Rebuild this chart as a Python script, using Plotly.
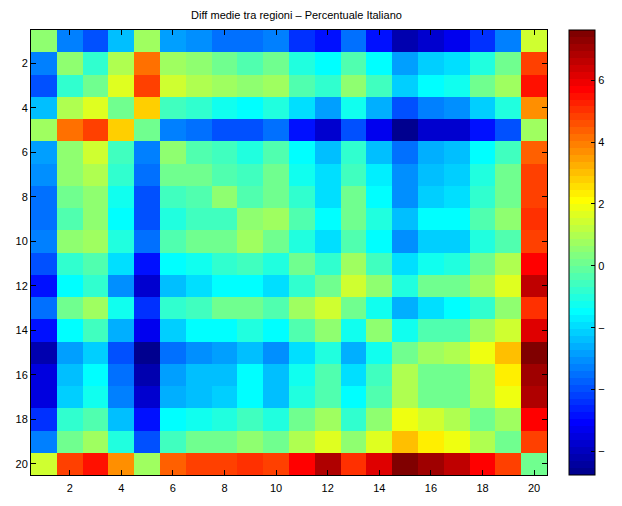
import plotly.graph_objects as go

regions = list(range(1, 21))
x_ticks = [2, 4, 6, 8, 10, 12, 14, 16, 18, 20]
cbar_vals = [-6, -4, -2, 0, 2, 4, 6]
cbar_text = ["\u2212", "\u2212", "\u2212", "0", "2", "4", "6"]
title_text = "Diff medie tra regioni \u2013 Percentuale Italiano"

row01 = [0.43, -3.28, -4.06, -2.27, 0.86, -2.73, -2.95, -3.40, -3.60, -3.17, -4.30, -4.96, -3.60, -4.75, -6.30, -5.70, -5.20, -4.30, -3.17, 1.50]
row02 = [-3.17, 0.43, -0.70, 1.10, 4.03, 0.86, 0.43, 0.00, -0.25, 0.20, -0.92, -1.55, -0.25, -1.37, -2.73, -2.05, -1.87, -0.92, 0.20, 4.92]
row03 = [-4.06, -0.70, 0.20, 1.72, 4.70, 1.33, 1.10, 0.86, 0.43, 0.86, -0.25, -0.70, 0.65, -0.47, -2.05, -1.37, -1.15, 0.00, 0.86, 5.55]
row04 = [-2.27, 1.10, 1.72, 0.20, 2.90, -0.47, -0.70, -1.15, -1.37, -0.92, -1.87, -2.73, -1.15, -2.50, -3.85, -3.17, -2.95, -2.05, -0.92, 3.80]
row05 = [0.86, 4.03, 4.70, 2.90, 0.20, -3.17, -3.60, -3.85, -4.06, -3.60, -4.75, -5.70, -4.06, -5.20, -6.76, -5.86, -5.70, -4.75, -3.85, 0.86]
row06 = [-2.73, 0.65, 1.33, -0.47, -3.17, 0.43, -0.25, -0.47, -0.92, -0.25, -1.37, -2.27, -0.70, -2.27, -3.40, -2.50, -2.27, -1.37, -0.47, 4.25]
row07 = [-2.95, 0.43, 1.10, -0.70, -3.60, 0.00, 0.20, -0.25, -0.47, 0.00, -1.15, -1.87, -0.47, -1.70, -2.95, -2.27, -2.05, -0.92, 0.00, 4.70]
row08 = [-3.40, 0.20, 0.65, -1.15, -3.85, -0.47, -0.25, 0.43, -0.25, 0.20, -0.70, -1.87, 0.20, -1.37, -2.95, -2.05, -1.87, -0.70, 0.20, 4.92]
row09 = [-3.60, -0.25, 0.43, -1.37, -4.06, -0.92, -0.47, -0.47, 0.43, 0.86, -0.25, -1.37, 0.20, -0.92, -2.27, -1.55, -1.37, -0.25, 0.43, 5.10]
row10 = [-3.17, 0.43, 0.86, -0.92, -3.60, -0.25, 0.00, 0.20, 0.86, 0.20, -0.92, -1.87, -0.25, -1.55, -2.95, -2.05, -2.05, -0.92, -0.25, 4.70]
row11 = [-4.06, -0.70, -0.25, -1.95, -4.75, -1.37, -1.15, -0.70, -0.47, -0.92, 0.20, -0.70, 0.86, -0.47, -1.95, -1.15, -0.92, 0.00, 1.10, 5.82]
row12 = [-4.96, -1.55, -0.70, -2.95, -5.80, -2.40, -1.87, -1.55, -1.37, -1.87, -0.70, 0.20, 1.50, 0.43, -0.92, 0.00, 0.00, 0.86, 1.72, 6.72]
row13 = [-3.60, 0.00, 0.86, -1.15, -4.30, -0.70, -0.47, 0.00, 0.20, -0.25, 0.86, 1.50, 0.20, -1.15, -2.60, -1.95, -1.55, -0.70, 0.43, 5.10]
row14 = [-4.75, -1.37, -0.47, -2.60, -5.30, -2.15, -1.55, -1.37, -0.92, -1.55, -0.25, 0.43, -1.15, 0.43, -1.15, -0.25, -0.25, 0.86, 1.50, 6.27]
row15 = [-6.10, -2.85, -2.15, -3.95, -6.65, -3.50, -3.05, -2.85, -2.27, -3.05, -1.87, -0.92, -2.50, -1.15, 0.20, 0.86, 1.10, 2.00, 3.00, 7.62]
row16 = [-5.60, -2.27, -1.37, -3.40, -6.10, -2.73, -2.40, -2.27, -1.55, -2.27, -1.15, -0.25, -1.87, -0.47, 1.10, 0.20, 0.20, 1.10, 2.23, 7.10]
row17 = [-5.47, -2.05, -1.15, -3.17, -5.86, -2.60, -2.27, -2.05, -1.37, -2.27, -0.92, -0.25, -1.55, -0.25, 1.10, 0.20, 0.20, 1.10, 2.00, 6.85]
row18 = [-4.30, -0.70, -0.25, -2.27, -4.75, -1.37, -1.15, -0.92, -0.47, -0.92, 0.00, 0.86, -0.70, 0.65, 2.00, 1.33, 1.10, 0.00, 0.86, 5.82]
row19 = [-3.17, 0.20, 0.86, -0.92, -3.85, -0.47, 0.00, 0.20, 0.43, 0.00, 1.10, 1.72, 0.43, 1.72, 3.00, 2.23, 2.00, 1.10, 0.20, 4.92]
row20 = [1.50, 4.70, 5.55, 3.80, 0.86, 4.25, 4.70, 4.92, 5.10, 4.70, 5.82, 6.85, 5.10, 6.27, 7.62, 6.95, 6.72, 5.82, 4.92, 0.20]

matrix = [row01, row02, row03, row04, row05, row06, row07, row08, row09, row10,
          row11, row12, row13, row14, row15, row16, row17, row18, row19, row20]


def matlab_jet(m=64):
    n = (m + 3) // 4
    u = [i / n for i in range(1, n + 1)] + [1.0] * (n - 1) + [i / n for i in range(n, 0, -1)]
    off = (n + 1) // 2 - (1 if m % 4 == 1 else 0)
    r = [0.0] * m
    g = [0.0] * m
    b = [0.0] * m
    for k, val in enumerate(u):
        gi = off + k + 1
        ri = gi + n
        bi = gi - n
        if 1 <= gi <= m:
            g[gi - 1] = val
        if 1 <= ri <= m:
            r[ri - 1] = val
        if 1 <= bi <= m:
            b[bi - 1] = val
    return [(round(255 * r[i]), round(255 * g[i]), round(255 * b[i])) for i in range(m)]


cols = matlab_jet(64)
colorscale = []
for i, c in enumerate(cols):
    s = "rgb(%d,%d,%d)" % c
    colorscale.append([i / 64, s])
    colorscale.append([(i + 1) / 64, s])

font = "Liberation Sans, Arial, Helvetica, sans-serif"

fig = go.Figure(go.Heatmap(
    z=matrix,
    x=regions,
    y=regions,
    colorscale=colorscale,
    zmin=min(min(r) for r in matrix),
    zmax=max(max(r) for r in matrix),
    colorbar=dict(
        x=1.0433, xanchor="left", xref="paper",
        y=0.5, yanchor="middle", len=1.0, lenmode="fraction",
        thickness=26, thicknessmode="pixels",
        outlinewidth=1, outlinecolor="black",
        tickvals=cbar_vals, ticktext=cbar_text,
        ticks="inside", ticklen=4, tickcolor="black",
        tickfont=dict(family=font, size=11, color="black"),
        xpad=0, ypad=0,
    ),
))

fig.update_layout(
    width=622, height=506,
    margin=dict(l=31, r=60, t=30, b=15.5),
    paper_bgcolor="white", plot_bgcolor="white",
    title=dict(text=title_text, x=(31 + 265.5) / 622, xanchor="center",
               y=1 - 15 / 506, yanchor="middle",
               font=dict(family=font, size=11, color="black")),
    font=dict(family=font, size=11, color="black"),
)
fig.update_xaxes(range=[0.5, 20.5], tickvals=x_ticks, ticks="inside", ticklen=5,
                 tickcolor="black", showline=True, linecolor="black", linewidth=1,
                 mirror="ticks", showgrid=False, zeroline=False, ticklabelstandoff=3,
                 tickfont=dict(family=font, size=11, color="black"))
fig.update_yaxes(range=[20.5, 0.5], tickvals=x_ticks, ticks="inside", ticklen=5,
                 tickcolor="black", showline=True, linecolor="black", linewidth=1,
                 mirror="ticks", showgrid=False, zeroline=False,
                 tickfont=dict(family=font, size=11, color="black"))

fig.write_html("out.html")
